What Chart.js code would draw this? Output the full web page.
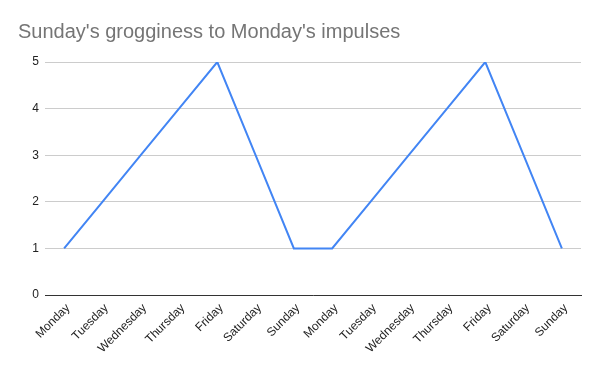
<!DOCTYPE html>
<html>
<head>
<meta charset="utf-8">
<script src="https://cdn.jsdelivr.net/npm/chart.js@4"></script>
<style>
html,body{margin:0;padding:0;background:#fff;}
#wrap{width:600px;height:371px;position:relative;}
</style>
</head>
<body>
<div id="wrap"><canvas id="c" width="600" height="371"></canvas></div>
<script>
const titleText = "Sunday's grogginess to Monday's impulses";
const categories = ["Monday","Tuesday","Wednesday","Thursday","Friday","Saturday","Sunday","Monday","Tuesday","Wednesday","Thursday","Friday","Saturday","Sunday"];
const values = [1,2,3,4,5,3,1,1,2,3,4,5,3,1];
const yTicks = [0,1,2,3,4,5];

Chart.defaults.font.family = "'Liberation Sans', Arial, sans-serif";

new Chart(document.getElementById('c'), {
  type: 'line',
  data: {
    labels: categories,
    datasets: [{
      data: values,
      borderColor: '#4285F4',
      backgroundColor: '#4285F4',
      borderWidth: 2,
      pointRadius: 0,
      tension: 0,
      fill: false
    }]
  },
  options: {
    responsive: false,
    animation: false,
    layout: { padding: { top: 20, left: 18, right: 19, bottom: 0 } },
    plugins: {
      legend: { display: false },
      tooltip: { enabled: false },
      title: {
        display: true,
        text: titleText,
        align: 'start',
        color: '#757575',
        font: { size: 20, weight: 'normal' },
        padding: { top: 0, bottom: 18 }
      }
    },
    scales: {
      x: {
        offset: true,
        grid: { display: false, drawTicks: false },
        border: { display: true, color: '#333333', width: 1 },
        ticks: {
          autoSkip: false,
          minRotation: 45,
          maxRotation: 45,
          color: '#222222',
          font: { size: 12 },
          padding: 6,
          labelOffset: 4
        },
        afterFit: (s) => { s.height = 76; }
      },
      y: {
        min: 0,
        max: 5,
        afterBuildTicks: (s) => { s.ticks = yTicks.map(v => ({ value: v })); },
        grid: { color: '#cccccc', drawTicks: false },
        border: { display: false },
        ticks: {
          color: '#222222',
          font: { size: 12 },
          padding: 6
        },
        afterFit: (s) => { s.width = 27; }
      }
    }
  }
});
</script>
</body>
</html>
